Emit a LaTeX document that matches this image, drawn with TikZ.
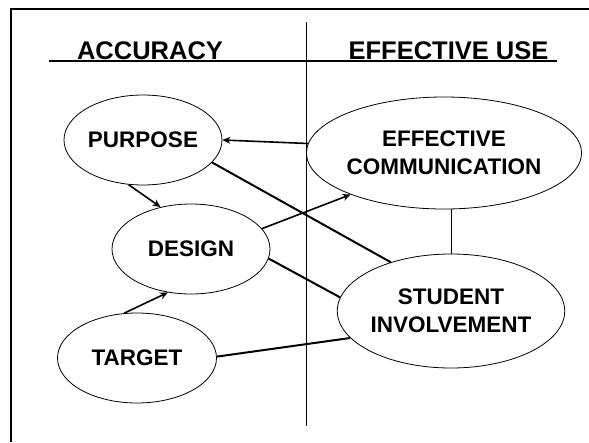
\documentclass[tikz,border=0pt]{standalone}
\usepackage{fontspec}
\setmainfont{Liberation Sans}
\usepackage{tikz}
\usetikzlibrary{shapes}
\usetikzlibrary{arrows.meta}

\begin{document}
\begin{tikzpicture}[x=1pt,y=-1pt,
  head/.style={anchor=base,inner sep=0pt,font=\fontsize{25.5}{30}\selectfont\bfseries},
  bubble/.style={draw,ellipse,line width=.8pt,inner sep=0pt,align=center,font=\fontsize{22.5}{28}\selectfont\bfseries},
  link/.style={line width=2pt},
  arr/.style={line width=1.6pt,-{Stealth[length=8pt,width=7pt]}}]
\useasboundingbox (0,0) rectangle (589,442);
\draw[line width=2.5pt] (11,442)--(11,9)--(589,9);
\draw[line width=.9pt] (306,22)--(306,426);
\draw[line width=1.2pt] (49,61)--(557,61);
\node[head] (accuracy) at (150,59) {ACCURACY};
\node[head] (effuse) at (448.5,59) {EFFECTIVE USE};
\node[bubble,minimum width=158,minimum height=90] (purpose) at (143,140) {PURPOSE};
\node[bubble,minimum width=220,minimum height=112] (effcom) at (444,153) {EFFECTIVE\\COMMUNICATION};
\node[bubble,minimum width=158,minimum height=90] (design) at (191,249) {DESIGN};
\node[bubble,minimum width=222,minimum height=114] (student) at (451,311) {STUDENT\\INVOLVEMENT};
\node[bubble,minimum width=159,minimum height=90] (target) at (137,358) {TARGET};
\draw[arr] (effcom.176)--(purpose.0);
\draw[arr] (purpose.252)--(design.126);
\draw[link] (purpose.342)--(student.141);
\draw[arr] (design.16)--(effcom.204);
\draw[link] (design.353)--(student.173);
\draw[line width=1pt] (student.north)--(student.north |- effcom.south);
\draw[arr] (target.106)--(design.242);
\draw[link] (target.1)--(student.195);
\end{tikzpicture}
\end{document}
